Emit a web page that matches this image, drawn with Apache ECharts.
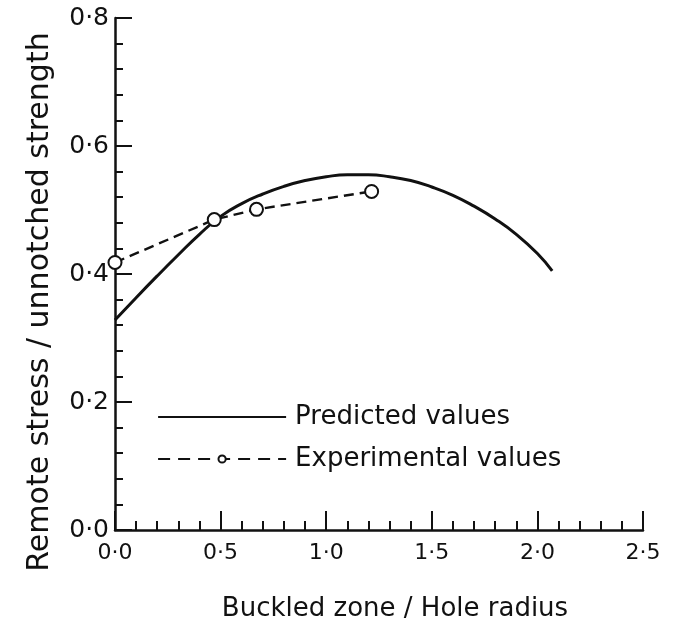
<!DOCTYPE html>
<html>
<head>
<meta charset="utf-8">
<title>Buckled zone vs remote stress</title>
<script src="https://cdn.jsdelivr.net/npm/echarts@6/dist/echarts.min.js"></script>
<style>
  html, body { margin: 0; padding: 0; background: #fff; }
  #chart { width: 677px; height: 622px; }
</style>
</head>
<body>
<div id="chart"></div>
<script>
// predicted curve
const predictedX = [0, 0.1, 0.2, 0.3, 0.4, 0.5, 0.6, 0.7, 0.8, 0.9, 1.0, 1.1, 1.2, 1.3, 1.4, 1.5, 1.6, 1.7, 1.8, 1.9, 2.0, 2.07]
const predictedY = [0.328, 0.363, 0.397, 0.430, 0.462, 0.490, 0.510, 0.525, 0.537, 0.546, 0.552, 0.555, 0.555, 0.552, 0.546, 0.536, 0.523, 0.506, 0.486, 0.462, 0.432, 0.405]

// experimental points
const experimentalX = [0, 0.47, 0.67, 1.215]
const experimentalY = [0.418, 0.485, 0.501, 0.529]

const seriesNames = ['Predicted values', 'Experimental values']
const axisNames = ['Buckled zone / Hole radius', 'Remote stress / unnotched strength']

const FONT = 'DejaVu Sans'
const fmt = (v) => v.toFixed(1).replace('.', '·')

const chart = echarts.init(document.getElementById('chart'))

const option = {
  animation: false,
  backgroundColor: '#fff',
  textStyle: { fontFamily: FONT, color: '#111' },
  // keep the plot box fixed, don't let v6 shrink it for the axis names
  grid: { left: 115, right: 34, top: 18, bottom: 92, outerBoundsMode: 'none' },
  legend: {
    orient: 'vertical',
    left: 152,
    top: 399,
    itemWidth: 128,
    itemHeight: 9,
    itemGap: 16,
    data: [
      // the predicted curve has no markers, so hide the dot in its legend icon
      { name: seriesNames[0], itemStyle: { opacity: 0 } },
      { name: seriesNames[1], lineStyle: { type: [12, 8], width: 2.2 } }
    ],
    textStyle: { fontFamily: FONT, fontSize: 26, color: '#111', padding: [0, 0, 0, 4] }
  },
  xAxis: {
    type: 'value',
    min: 0,
    max: 2.5,
    interval: 0.5,
    name: axisNames[0],
    nameLocation: 'middle',
    nameGap: 66,
    nameTextStyle: { fontFamily: FONT, fontSize: 26, color: '#111', padding: [0, 0, 0, 32] },
    axisLine: { lineStyle: { color: '#111', width: 2.5 } },
    axisTick: { inside: true, length: 19, lineStyle: { color: '#111', width: 2 } },
    minorTick: { show: true, splitNumber: 5, length: 9, lineStyle: { color: '#111', width: 2 } },
    splitLine: { show: false },
    axisLabel: { margin: 12, fontSize: 22, color: '#111', fontFamily: FONT, formatter: fmt }
  },
  yAxis: {
    type: 'value',
    min: 0,
    max: 0.8,
    interval: 0.2,
    name: axisNames[1],
    nameLocation: 'middle',
    nameRotate: 90,
    nameGap: 60,
    nameTextStyle: { fontFamily: FONT, fontSize: 30, color: '#111', padding: [0, 56, 0, 0] },
    axisLine: { lineStyle: { color: '#111', width: 2.5 } },
    axisTick: { inside: true, length: 17, lineStyle: { color: '#111', width: 2 } },
    minorTick: { show: true, splitNumber: 5, length: 8, lineStyle: { color: '#111', width: 2 } },
    splitLine: { show: false },
    axisLabel: { margin: 6, fontSize: 25, color: '#111', fontFamily: FONT, formatter: fmt }
  },
  series: [
    {
      name: seriesNames[0],
      type: 'line',
      smooth: true,
      symbol: 'none',
      data: predictedX.map((x, i) => [x, predictedY[i]]),
      lineStyle: { color: '#111', width: 3 },
      itemStyle: { color: '#111' },
      z: 3
    },
    {
      name: seriesNames[1],
      type: 'line',
      symbol: 'circle',
      symbolSize: 13,
      showAllSymbol: true,
      data: experimentalX.map((x, i) => [x, experimentalY[i]]),
      lineStyle: { color: '#111', width: 2.4, type: [10, 6] },
      itemStyle: { color: '#fff', borderColor: '#111', borderWidth: 2 },
      z: 4
    }
  ]
}

chart.setOption(option)
window.addEventListener('resize', () => {
  chart.resize()
})
</script>
</body>
</html>
